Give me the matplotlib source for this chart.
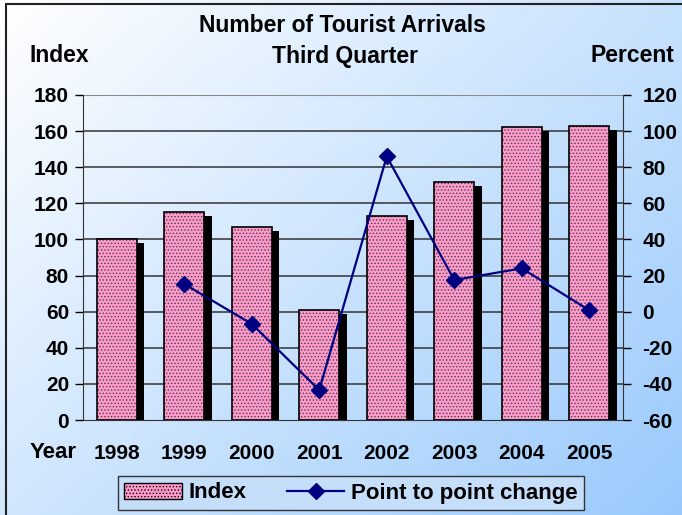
import numpy as np
import matplotlib.pyplot as plt
from matplotlib.patches import Rectangle, Patch
from matplotlib.lines import Line2D

plt.rcParams['font.family'] = ['Liberation Sans', 'DejaVu Sans']
plt.rcParams['font.weight'] = 'bold'
plt.rcParams['hatch.linewidth'] = 0.6
plt.rcParams['axes.unicode_minus'] = False

years = ['1998', '1999', '2000', '2001', '2002', '2003', '2004', '2005']
index = [100, 115, 107, 61, 113, 132, 162, 163]
# point to point change, no value for first year
change = [np.nan, 15.3, -6.8, -43.4, 86, 17.5, 24, 0.8]

W, H = 682, 515
fig = plt.figure(figsize=(W / 100, H / 100), dpi=100)

# gradient background
bg = fig.add_axes([0, 0, 1, 1], zorder=-10)
gx, gy = np.meshgrid(np.linspace(0, 1, 200), np.linspace(0, 1, 200))
t = np.clip(0.55 * gx + 0.45 * gy, 0, 1)[..., None]
c0 = np.array([1.0, 1.0, 1.0])
c1 = np.array([0.60, 0.79, 0.99])
bg.imshow(c0 * (1 - t) + c1 * t, extent=[0, 1, 0, 1], aspect='auto', origin='upper')
bg.add_patch(Rectangle((6 / W, -0.01), 1.0, 1 - 4 / H + 0.01, fill=False,
                       edgecolor='#222222', linewidth=1.5, transform=bg.transAxes))
bg.set_axis_off()

ax = fig.add_axes([83 / W, 1 - 420 / H, 540 / W, 325 / H])
ax.patch.set_alpha(0)
x = np.arange(len(years))
bw = 0.59

# shadows
ax.bar(x + 0.11, np.array(index) - 2.2, bw, color='black', zorder=2)
ax.bar(x, index, bw, color='#FF99CC', edgecolor='#444444', linewidth=0,
       hatch='.....', zorder=3)
ax.bar(x, index, bw, fill=False, edgecolor='black', linewidth=1.2, zorder=4)

ax.set_xlim(-0.5, 7.5)
ax.set_ylim(0, 180)
ax.set_yticks(range(0, 181, 20))
for v in range(20, 161, 20):
    ax.axhline(v, color='#333333', linewidth=1.1, zorder=1)
ax.axhline(180, color='#888888', linewidth=1.5, zorder=1)
ax.set_xticks(x)
ax.set_xticklabels(years)
ax.tick_params(axis='x', length=0, pad=17, labelsize=15)
ax.tick_params(axis='y', direction='out', length=6, width=1, labelsize=15, pad=4)
ax.spines['top'].set_visible(False)
ax.spines['bottom'].set_color('#333333')
ax.spines['left'].set_color('#333333')
ax.spines['right'].set_visible(False)

ax2 = ax.twinx()
ax2.set_ylim(-60, 120)
ax2.set_yticks(range(-60, 121, 20))
ax2.plot(x, change, color='#000080', linewidth=1.6, marker='D', markersize=8, zorder=5)
ax2.tick_params(axis='y', direction='out', length=6, width=1, labelsize=15, pad=8)
for s in ['top', 'left', 'bottom']:
    ax2.spines[s].set_visible(False)
ax2.spines['right'].set_color('#333333')

for lab in ax.get_xticklabels() + ax.get_yticklabels() + ax2.get_yticklabels():
    lab.set_fontweight('bold')

fig.text(342 / W, 1 - 25 / H, 'Number of Tourist Arrivals', ha='center', va='center',
         fontsize=16.5, fontweight='bold')
fig.text(345 / W, 1 - 56 / H, 'Third Quarter', ha='center', va='center',
         fontsize=16.5, fontweight='bold')
fig.text(59 / W, 1 - 56 / H, 'Index', ha='center', va='center', fontsize=16.5, fontweight='bold')
fig.text(632 / W, 1 - 56 / H, 'Percent', ha='center', va='center', fontsize=16.5, fontweight='bold')
fig.text(53 / W, 1 - 452 / H, 'Year', ha='center', va='center', fontsize=16, fontweight='bold')

handles = [Patch(facecolor='#FF99CC', edgecolor='black', hatch='.....'),
           Line2D([0], [0], color='#000080', linewidth=1.6, marker='D', markersize=8)]
leg = fig.legend(handles, ['Index', 'Point to point change'], ncol=2,
                 loc='center', bbox_to_anchor=(351 / W, 1 - 493 / H),
                 frameon=True, fancybox=False, columnspacing=1.8,
                 handlelength=2.6, handletextpad=0.3, borderpad=0.3, borderaxespad=0,
                 prop={'weight': 'bold', 'size': 16})
leg.get_frame().set_edgecolor('#333333')
leg.get_frame().set_facecolor('#C5DFFB')
leg.get_frame().set_alpha(1)

fig.savefig('out.png', dpi=100)
